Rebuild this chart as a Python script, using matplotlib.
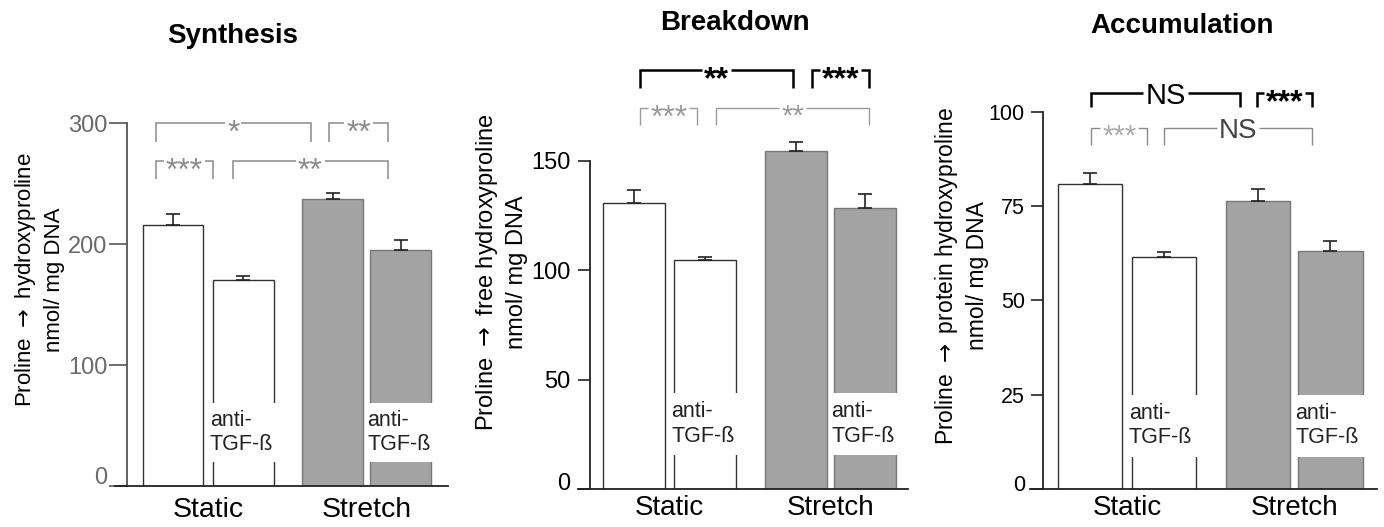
import matplotlib
matplotlib.use('Agg')
import matplotlib.pyplot as plt
from matplotlib.patches import Rectangle
from matplotlib.transforms import ScaledTranslation

plt.rcParams['font.family'] = ['Liberation Sans', 'DejaVu Sans']
plt.rcParams['mathtext.fontset'] = 'dejavusans'

# ---------------- data ----------------
titles = ['Synthesis', 'Breakdown', 'Accumulation']
ylabels = ['Proline $\\rightarrow$ hydroxyproline\nnmol/ mg DNA',
           'Proline $\\rightarrow$ free hydroxyproline\nnmol/ mg DNA',
           'Proline $\\rightarrow$ protein hydroxyproline\nnmol/ mg DNA']
groups = ['Static', 'Stretch']
treat_label = 'anti-\nTGF-\u00df'

synthesis = [216, 170, 237, 195]
synthesis_err = [9, 3.5, 5, 8]
breakdown = [131, 104.5, 154.5, 128.5]
breakdown_err = [5.5, 1.8, 4.2, 6.4]
accumulation = [80.9, 61.5, 76.4, 63.1]
accumulation_err = [2.9, 1.4, 3.2, 2.7]

yticks_syn = [0, 100, 200, 300]
yticks_brk = [0, 50, 100, 150]
yticks_acc = [0, 25, 50, 75, 100]

# significance labels: row1 left, row1 right, row2 left, row2 right
sig_syn = ['*', '**', '***', '**']
sig_brk = ['**', '***', '***', '**']
sig_acc = ['NS', '***', '***', 'NS']

# ---------------- layout / style ----------------
xpos = [0, 1.13, 2.57, 3.67]
bar_w = 0.98
face = ['white', 'white', '#a3a3a3', '#a3a3a3']
edge = ['#333333', '#333333', '#777777', '#777777']

panels = [
    dict(values=synthesis, err=synthesis_err, yticks=yticks_syn, sig=sig_syn,
         rect=[0.0831, 0.0778, 0.2406, 0.6888], xlim=(-0.935, 4.43), ylim=(0, 300), sx=-0.74,
         rows=[(300, 284, [(-0.28, 2.22), (2.52, 3.46)]),
               (268.6, 253.7, [(-0.28, 0.65), (0.96, 3.46)])],
         styles=[[('#8a8a8a', 1.1, 23, 'normal', '#8a8a8a'), ('#8a8a8a', 1.1, 23, 'normal', '#8a8a8a')],
                 [('#8a8a8a', 1.1, 23, 'normal', '#8a8a8a'), ('#8a8a8a', 1.1, 23, 'normal', '#8a8a8a')]],
         gap=(19.8, 68.6), tick_color='#6a6a6a', spine_color='#555555', tick_len=13, tick_pad=1,
         tick_fs=17, xpad=8, xfs=20.5, zero_up=10,
         title=(233, 36), ylab=(39, 280), ylab_fs=16),
    dict(values=breakdown, err=breakdown_err, yticks=yticks_brk, sig=sig_brk,
         rect=[0.4176, 0.0721, 0.2384, 0.7262], xlim=(-0.89, 4.35), ylim=(0, 175), sx=-0.70,
         rows=[(191.6, 183.4, [(0.1, 2.52), (2.83, 3.73)]),
               (174.2, 166.4, [(0.1, 1.0), (1.3, 3.73)])],
         styles=[[('black', 1.8, 23, 'bold', 'black'), ('black', 1.8, 23, 'bold', 'black')],
                 [('#9a9a9a', 1.0, 23, 'normal', '#9a9a9a'), ('#9a9a9a', 1.0, 21, 'normal', '#9a9a9a')]],
         gap=(15.5, 44.0), tick_color='black', spine_color='#222222', tick_len=9, tick_pad=5,
         tick_fs=17, xpad=4, xfs=20, zero_up=8,
         title=(735, 23), ylab=(501, 272), ylab_fs=17),
    dict(values=accumulation, err=accumulation_err, yticks=yticks_acc, sig=sig_acc,
         rect=[0.7442, 0.0721, 0.2507, 0.7154], xlim=(-0.916, 4.38), ylim=(0, 100), sx=-0.72,
         rows=[(105, 101.3, [(0.02, 2.29), (2.55, 3.39)]),
               (95.8, 91.2, [(0.02, 0.87), (1.13, 3.39)])],
         styles=[[('black', 1.8, 21, 'normal', 'black'), ('black', 1.8, 23, 'bold', 'black')],
                 [('#8a8a8a', 1.0, 21, 'normal', '#aaaaaa'), ('#8a8a8a', 1.0, 20, 'normal', '#444444')]],
         gap=(8.5, 25.0), tick_color='black', spine_color='#222222', tick_len=9, tick_pad=4,
         tick_fs=15.5, xpad=4, xfs=20, zero_up=6,
         title=(1182, 26), ylab=(961, 276), ylab_fs=16.5),
]

W, H = 1384, 527
fig = plt.figure(figsize=(W / 100, H / 100), dpi=100)

pending = []  # brackets whose lines are drawn after the labels are measured

for p, title, ylabel in zip(panels, titles, ylabels):
    ax = fig.add_axes(p['rect'])
    ax.set_xlim(*p['xlim'])
    ax.set_ylim(*p['ylim'])
    ax.patch.set_alpha(0)

    ax.bar(xpos, p['values'], width=bar_w, color=face, edgecolor=edge, linewidth=1.0, zorder=2)
    ax.errorbar(xpos, p['values'], yerr=[[0] * 4, p['err']], fmt='none', ecolor='#222222',
                elinewidth=1.2, capsize=4.7, capthick=1.2, zorder=3)

    # label gaps inside treated bars
    for i in (1, 3):
        g0, g1 = p['gap']
        ax.add_patch(Rectangle((xpos[i] - 0.56, g0), 1.12, g1 - g0, facecolor='white',
                               edgecolor='none', zorder=3))
        ax.text(xpos[i] - bar_w / 2 - 0.05, (g0 + g1) / 2, treat_label, ha='left', va='center',
                fontsize=15.5, color='#222222', linespacing=1.2, zorder=4)

    # significance bracket labels
    k = 0
    for (y, yd, spans), row_st in zip(p['rows'], p['styles']):
        for (x1, x2), (col, lw, fs, wt, tcol) in zip(spans, row_st):
            label = p['sig'][k]
            off = 0.36 if label == 'NS' else 0.58
            t = ax.annotate(label, xy=((x1 + x2) / 2, y), xytext=(0, -off * fs),
                            textcoords='offset points', ha='center', va='baseline',
                            fontsize=fs, color=tcol, fontweight=wt,
                            annotation_clip=False, zorder=6)
            pending.append((ax, t, x1, x2, y, yd, col, lw))
            k += 1

    # axes styling
    for s in ('top', 'right'):
        ax.spines[s].set_visible(False)
    ax.spines['left'].set_position(('data', p['sx']))
    ax.spines['left'].set_bounds(p['yticks'][0], p['yticks'][-1])
    ax.spines['left'].set_color(p['spine_color'])
    ax.spines['left'].set_linewidth(1.3)
    ax.spines['bottom'].set_color('#222222')
    ax.spines['bottom'].set_linewidth(1.3)
    ax.set_yticks(p['yticks'])
    ax.set_yticklabels([str(t) for t in p['yticks']])
    ax.tick_params(axis='y', length=p['tick_len'], width=1.2, color=p['spine_color'],
                   pad=p['tick_pad'], labelsize=p['tick_fs'], labelcolor=p['tick_color'])
    zl = ax.get_yticklabels()[0]
    zl.set_transform(zl.get_transform() + ScaledTranslation(0, p['zero_up'] / 100, fig.dpi_scale_trans))
    ax.set_xticks([(xpos[0] + xpos[1]) / 2, (xpos[2] + xpos[3]) / 2])
    ax.set_xticklabels(groups)
    ax.tick_params(axis='x', length=0, pad=p['xpad'], labelsize=p['xfs'])

    fig.text(p['title'][0] / W, 1 - p['title'][1] / H, title, ha='center', va='center',
             fontsize=20, fontweight='bold')
    fig.text(p['ylab'][0] / W, 1 - p['ylab'][1] / H, ylabel, ha='center', va='center',
             rotation=90, fontsize=p['ylab_fs'], multialignment='center', linespacing=1.35)

# draw bracket lines, leaving a gap where the label sits
renderer = fig.canvas.get_renderer()
for ax, t, x1, x2, y, yd, col, lw in pending:
    bb = t.get_window_extent(renderer)
    inv = ax.transData.inverted()
    xa = inv.transform((bb.x0 - 2, 0))[0]
    xb = inv.transform((bb.x1 + 2, 0))[0]
    kw = dict(color=col, lw=lw, clip_on=False, solid_joinstyle='miter',
              solid_capstyle='butt', zorder=5)
    ax.plot([x1, x1, max(x1, xa)], [yd, y, y], **kw)
    ax.plot([min(x2, xb), x2, x2], [y, y, yd], **kw)

fig.savefig('out.png', dpi=100)
